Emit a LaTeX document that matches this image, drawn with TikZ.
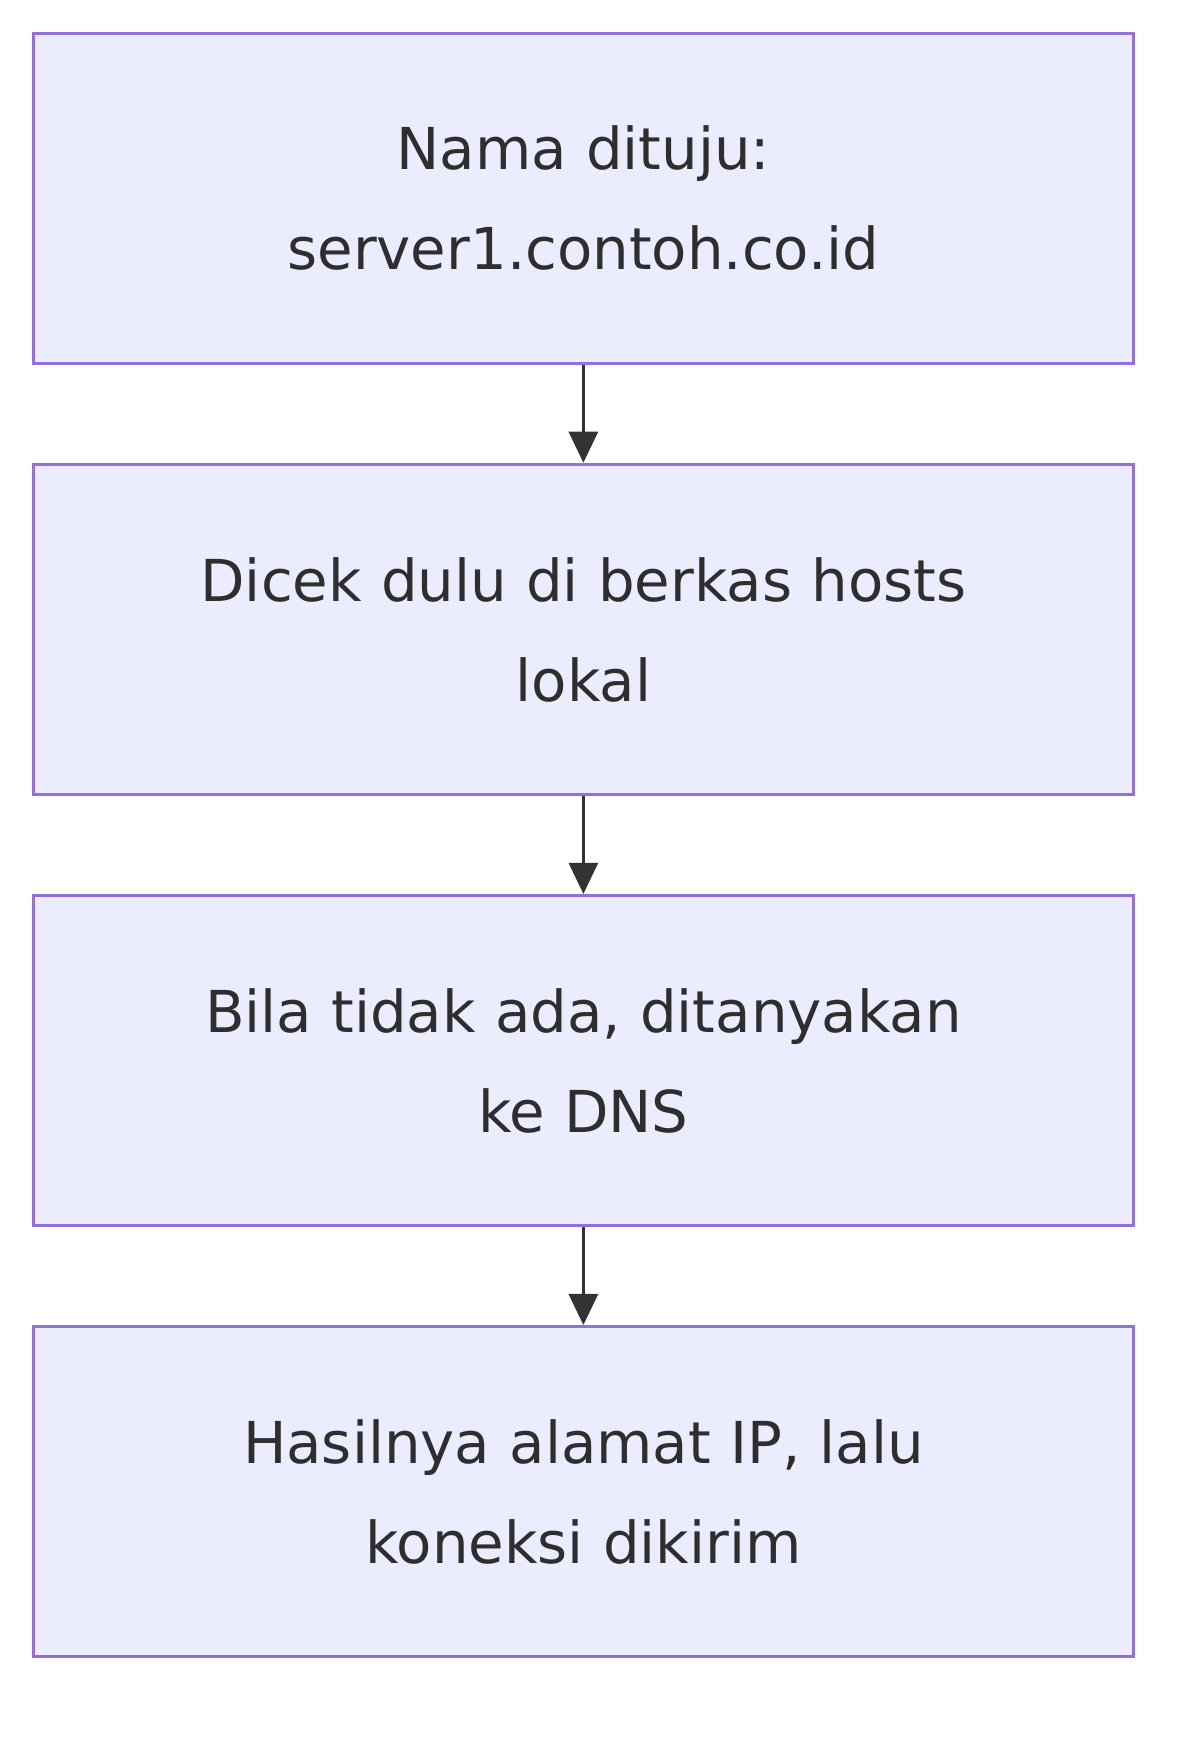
\documentclass[tikz,border=0pt]{standalone}
\usepackage{fontspec}
\setmainfont{DejaVu Sans}
\usetikzlibrary{arrows.meta}
\definecolor{boxfill}{HTML}{ECECFF}
\definecolor{boxline}{HTML}{9370DB}
\definecolor{arr}{HTML}{333333}
\begin{document}
\begin{tikzpicture}[x=1pt,y=-1pt,
  box/.style={draw=boxline,fill=boxfill,line width=3pt,minimum width=990pt,minimum height=297pt,align=center,text width=800pt,
    font=\fontsize{52}{90}\selectfont,text=arr!90!black},
  link/.style={draw=arr,line width=3pt,-{Triangle[length=28pt,width=26pt]}}]
\useasboundingbox (0,0) rectangle (1080,1565);
\node[box] (a) at (525,178.5) {Nama dituju:\\server1.contoh.co.id};
\node[box] (b) at (525,566.5) {Dicek dulu di berkas hosts\\lokal};
\node[box] (c) at (525,954.5) {Bila tidak ada, ditanyakan\\ke DNS};
\node[box] (d) at (525,1342.5) {Hasilnya alamat IP, lalu\\koneksi dikirim};
\draw[link] (a) -- (b);
\draw[link] (b) -- (c);
\draw[link] (c) -- (d);
\end{tikzpicture}
\end{document}
